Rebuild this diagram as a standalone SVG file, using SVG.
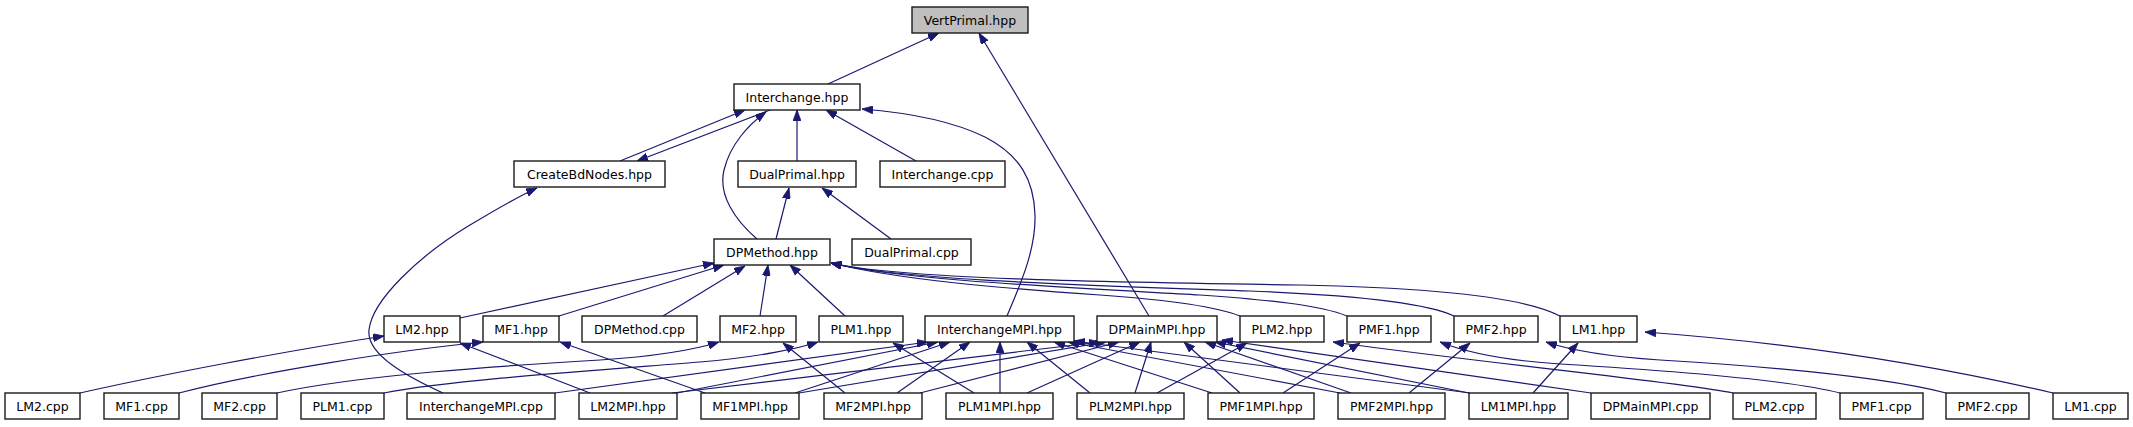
<svg xmlns="http://www.w3.org/2000/svg" width="2133" height="427" viewBox="0 0 2133 427">
<style>
.n rect{fill:#ffffff;stroke:#1a1a1a;stroke-width:1.4}
.n.root rect{fill:#bfbfbf}
.n text{font-family:"DejaVu Sans","Liberation Sans",sans-serif;font-size:12.5px;fill:#000;text-anchor:middle}
#edges path{fill:none;stroke:#191970;stroke-width:1.2;marker-end:url(#a)}
</style>
<defs>
<marker id="a" markerWidth="11" markerHeight="8" refX="11" refY="4" orient="auto" markerUnits="userSpaceOnUse"><path d="M0,0 L11,4 L0,8 z" fill="#191970" stroke="#191970" stroke-width="0.8"/></marker>
</defs>
<rect width="2133" height="427" fill="#ffffff"/>
<g id="edges">
<path d="M828,84 L939,33"/>
<path d="M1149,316 L979,33"/>
<path d="M620,161 L745,110"/>
<path d="M770,110 L637,161"/>
<path d="M757,239 C735,220 718,195 724,170 C730,145 748,125 766,112"/>
<path d="M797,161 L797,110"/>
<path d="M916,161 L826,110"/>
<path d="M1007,316 C1020,285 1036,250 1035,215 C1034,180 1020,155 985,137 C950,120 900,112 862,109"/>
<path d="M776,239 L789,188"/>
<path d="M891,239 L822,188"/>
<path d="M460,318 L714,263"/>
<path d="M559,316 L724,265"/>
<path d="M663,316 L745,266"/>
<path d="M760,316 L768,265"/>
<path d="M845,316 L790,265"/>
<path d="M1560,316 C1530,300 1450,288 1300,285 C1100,282 900,279 831,263"/>
<path d="M1454,316 C1425,302 1350,295 1250,291 C1080,285 900,280 831,263"/>
<path d="M1347,316 C1320,305 1270,300 1200,295 C1060,287 900,280 831,263"/>
<path d="M1240,316 C1215,306 1170,300 1100,295 C1000,288 900,280 831,263"/>
<path d="M80,393 C160,375 280,352 384,336"/>
<path d="M179,393 C260,372 400,350 483,342"/>
<path d="M277,393 C360,375 500,366 600,360 C660,356 700,348 719,342"/>
<path d="M384,393 C450,380 600,370 700,362 C760,357 800,348 818,342"/>
<path d="M443,393 C410,378 366,355 369,330 C372,300 420,255 470,225 C495,210 515,198 537,188"/>
<path d="M555,393 L928,342"/>
<path d="M590,393 L460,343"/>
<path d="M677,393 L938,342"/>
<path d="M672,393 L1100,342"/>
<path d="M705,393 L560,342"/>
<path d="M795,393 L950,342"/>
<path d="M799,393 L1106,342"/>
<path d="M845,393 L783,343"/>
<path d="M897,393 L970,342"/>
<path d="M920,393 L1119,342"/>
<path d="M974,393 L893,343"/>
<path d="M1000,393 L1000,342"/>
<path d="M1027,393 L1140,342"/>
<path d="M1157,393 L1247,343"/>
<path d="M1090,393 L1027,342"/>
<path d="M1135,393 L1151,342"/>
<path d="M1283,393 L1360,343"/>
<path d="M1212,393 L1054,342"/>
<path d="M1240,393 L1184,342"/>
<path d="M1409,393 L1470,343"/>
<path d="M1340,393 L1068,342"/>
<path d="M1351,393 L1205,342"/>
<path d="M1533,393 L1578,343"/>
<path d="M1470,393 L1074,341"/>
<path d="M1469,393 L1215,342"/>
<path d="M1591,393 L1222,340"/>
<path d="M1733,393 C1680,382 1500,365 1333,342"/>
<path d="M1840,393 C1790,380 1660,370 1560,364 C1500,360 1465,352 1440,342"/>
<path d="M1946,393 C1880,376 1760,366 1660,360 C1600,356 1570,350 1546,342"/>
<path d="M2053,393 C1920,362 1780,342 1645,332"/>
</g>
<g id="VertPrimal_hpp" class="n root"><rect x="912" y="7" width="116" height="26"/><text x="970" y="25">VertPrimal.hpp</text></g>
<g id="Interchange_hpp" class="n"><rect x="734" y="84" width="126" height="26"/><text x="797" y="102">Interchange.hpp</text></g>
<g id="CreateBdNodes_hpp" class="n"><rect x="514" y="161" width="151" height="26"/><text x="589.5" y="179">CreateBdNodes.hpp</text></g>
<g id="DualPrimal_hpp" class="n"><rect x="738" y="161" width="118" height="26"/><text x="797" y="179">DualPrimal.hpp</text></g>
<g id="Interchange_cpp" class="n"><rect x="880" y="161" width="125" height="26"/><text x="942.5" y="179">Interchange.cpp</text></g>
<g id="DPMethod_hpp" class="n"><rect x="714" y="239" width="116" height="26"/><text x="772" y="257">DPMethod.hpp</text></g>
<g id="DualPrimal_cpp" class="n"><rect x="852" y="239" width="119" height="26"/><text x="911.5" y="257">DualPrimal.cpp</text></g>
<g id="LM2_hpp" class="n"><rect x="384" y="316" width="76" height="26"/><text x="422" y="334">LM2.hpp</text></g>
<g id="MF1_hpp" class="n"><rect x="483" y="316" width="76" height="26"/><text x="521" y="334">MF1.hpp</text></g>
<g id="DPMethod_cpp" class="n"><rect x="582" y="316" width="115" height="26"/><text x="639.5" y="334">DPMethod.cpp</text></g>
<g id="MF2_hpp" class="n"><rect x="720" y="316" width="76" height="26"/><text x="758" y="334">MF2.hpp</text></g>
<g id="PLM1_hpp" class="n"><rect x="819" y="316" width="84" height="26"/><text x="861" y="334">PLM1.hpp</text></g>
<g id="InterchangeMPI_hpp" class="n"><rect x="925" y="316" width="149" height="26"/><text x="999.5" y="334">InterchangeMPI.hpp</text></g>
<g id="DPMainMPI_hpp" class="n"><rect x="1097" y="316" width="120" height="26"/><text x="1157" y="334">DPMainMPI.hpp</text></g>
<g id="PLM2_hpp" class="n"><rect x="1240" y="316" width="84" height="26"/><text x="1282" y="334">PLM2.hpp</text></g>
<g id="PMF1_hpp" class="n"><rect x="1347" y="316" width="84" height="26"/><text x="1389" y="334">PMF1.hpp</text></g>
<g id="PMF2_hpp" class="n"><rect x="1454" y="316" width="84" height="26"/><text x="1496" y="334">PMF2.hpp</text></g>
<g id="LM1_hpp" class="n"><rect x="1560" y="316" width="77" height="26"/><text x="1598.5" y="334">LM1.hpp</text></g>
<g id="LM2_cpp" class="n"><rect x="5" y="393" width="75" height="26"/><text x="42.5" y="411">LM2.cpp</text></g>
<g id="MF1_cpp" class="n"><rect x="104" y="393" width="75" height="26"/><text x="141.5" y="411">MF1.cpp</text></g>
<g id="MF2_cpp" class="n"><rect x="202" y="393" width="75" height="26"/><text x="239.5" y="411">MF2.cpp</text></g>
<g id="PLM1_cpp" class="n"><rect x="301" y="393" width="83" height="26"/><text x="342.5" y="411">PLM1.cpp</text></g>
<g id="InterchangeMPI_cpp" class="n"><rect x="407" y="393" width="148" height="26"/><text x="481" y="411">InterchangeMPI.cpp</text></g>
<g id="LM2MPI_hpp" class="n"><rect x="579" y="393" width="98" height="26"/><text x="628" y="411">LM2MPI.hpp</text></g>
<g id="MF1MPI_hpp" class="n"><rect x="701" y="393" width="98" height="26"/><text x="750" y="411">MF1MPI.hpp</text></g>
<g id="MF2MPI_hpp" class="n"><rect x="824" y="393" width="98" height="26"/><text x="873" y="411">MF2MPI.hpp</text></g>
<g id="PLM1MPI_hpp" class="n"><rect x="946" y="393" width="107" height="26"/><text x="999.5" y="411">PLM1MPI.hpp</text></g>
<g id="PLM2MPI_hpp" class="n"><rect x="1077" y="393" width="107" height="26"/><text x="1130.5" y="411">PLM2MPI.hpp</text></g>
<g id="PMF1MPI_hpp" class="n"><rect x="1208" y="393" width="106" height="26"/><text x="1261" y="411">PMF1MPI.hpp</text></g>
<g id="PMF2MPI_hpp" class="n"><rect x="1338" y="393" width="107" height="26"/><text x="1391.5" y="411">PMF2MPI.hpp</text></g>
<g id="LM1MPI_hpp" class="n"><rect x="1469" y="393" width="99" height="26"/><text x="1518.5" y="411">LM1MPI.hpp</text></g>
<g id="DPMainMPI_cpp" class="n"><rect x="1591" y="393" width="119" height="26"/><text x="1650.5" y="411">DPMainMPI.cpp</text></g>
<g id="PLM2_cpp" class="n"><rect x="1733" y="393" width="83" height="26"/><text x="1774.5" y="411">PLM2.cpp</text></g>
<g id="PMF1_cpp" class="n"><rect x="1840" y="393" width="83" height="26"/><text x="1881.5" y="411">PMF1.cpp</text></g>
<g id="PMF2_cpp" class="n"><rect x="1946" y="393" width="83" height="26"/><text x="1987.5" y="411">PMF2.cpp</text></g>
<g id="LM1_cpp" class="n"><rect x="2053" y="393" width="75" height="26"/><text x="2090.5" y="411">LM1.cpp</text></g>
</svg>
